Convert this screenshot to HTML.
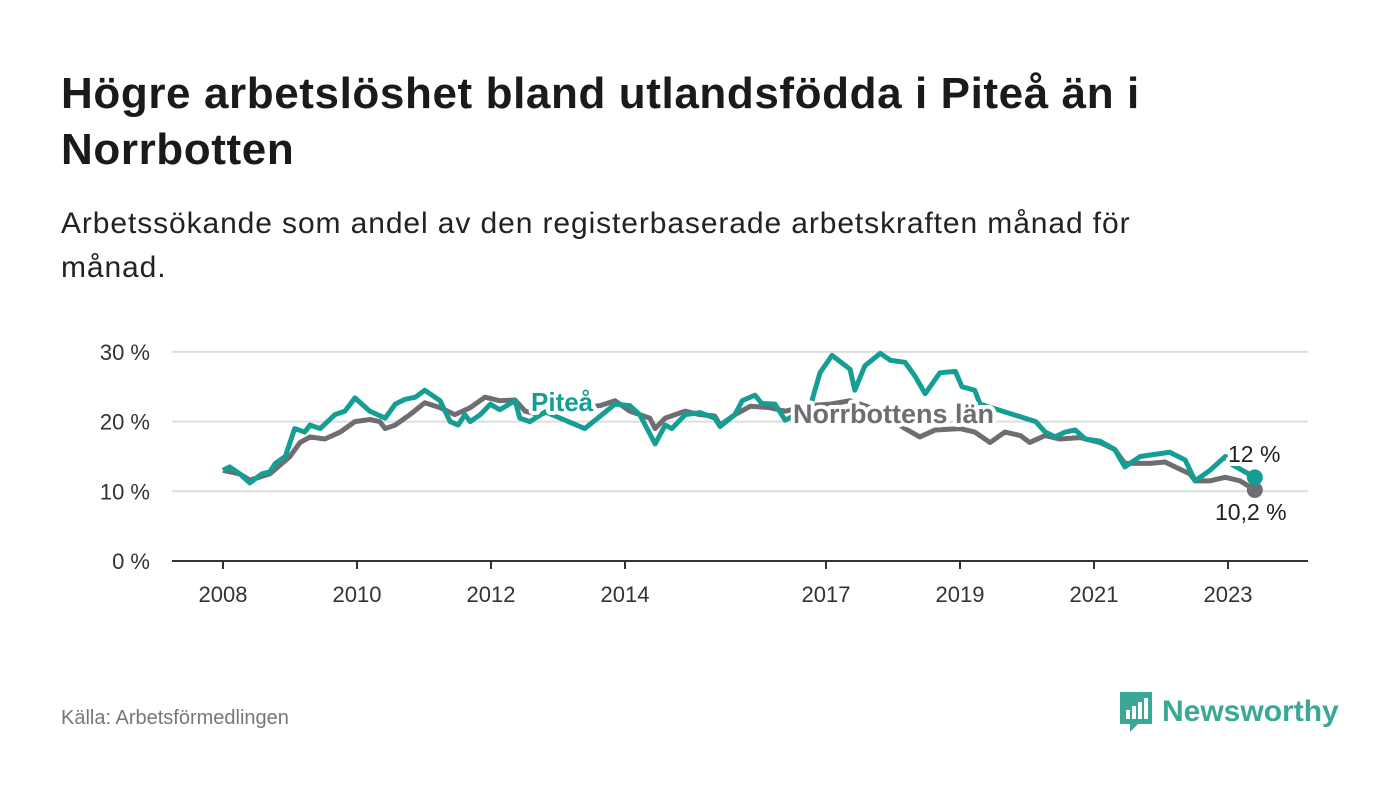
<!DOCTYPE html>
<html><head><meta charset="utf-8">
<style>
body{margin:0;width:1400px;height:794px;background:#fff;font-family:"Liberation Sans",sans-serif;overflow:hidden;position:relative;color:#111}
h1{position:absolute;left:61px;top:66px;margin:0;font-size:44px;line-height:56px;font-weight:bold;color:#1a1a1a;width:1240px;letter-spacing:0.6px}
.sub{position:absolute;left:61px;top:202px;font-size:30px;line-height:44px;color:#222;width:1170px;letter-spacing:0.9px}
.src{position:absolute;left:61px;top:707px;font-size:20px;color:#777}
.logo{position:absolute;left:1118px;top:690px;display:flex;align-items:center}
.logo span{font-size:30px;font-weight:bold;color:#3aa897;margin-left:8px}
svg{position:absolute;left:0;top:0}
</style></head><body>
<h1>Högre arbetslöshet bland utlandsfödda i Piteå än i Norrbotten</h1>
<div class="sub">Arbetssökande som andel av den registerbaserade arbetskraften månad för månad.</div>
<div class="src">Källa: Arbetsförmedlingen</div>
<div class="logo">
<svg width="36" height="44" viewBox="0 0 36 44" style="position:static"><path d="M2 2h32v32H20l-8 8v-8H2z" fill="#3aa897"/><rect x="8" y="20" width="4" height="9" fill="#fff"/><rect x="14" y="16" width="4" height="13" fill="#fff"/><rect x="20" y="12" width="4" height="17" fill="#fff"/><rect x="26" y="8" width="4" height="21" fill="#fff"/></svg>
<span>Newsworthy</span></div>
<svg id="chart" width="1400" height="794"></svg>
<script>
const yTicks=[0,10,20,30];
const xTicks=[2008,2010,2012,2014,2017,2019,2021,2023];
const grayDates=[2008.00,2008.25,2008.40,2008.70,2009.00,2009.15,2009.30,2009.52,2009.75,2009.97,2010.19,2010.34,2010.42,2010.57,2010.79,2011.01,2011.24,2011.46,2011.69,2011.91,2012.13,2012.36,2012.51,2012.73,2013.03,2013.33,2013.63,2013.85,2014.07,2014.37,2014.45,2014.60,2014.90,2015.12,2015.34,2015.42,2015.64,2015.87,2016.16,2016.39,2016.76,2017.06,2017.36,2017.66,2017.96,2018.18,2018.40,2018.63,2019.00,2019.22,2019.45,2019.67,2019.90,2020.04,2020.27,2020.49,2020.79,2021.09,2021.31,2021.46,2021.84,2022.06,2022.21,2022.43,2022.51,2022.73,2022.96,2023.18,2023.40];
const grayValues=[13,12.5,11.6,12.5,15,17,17.8,17.5,18.5,20,20.3,20,19,19.5,21,22.7,22,21,22,23.5,23,23.1,21.5,21,22,22,22.3,23,21.5,20.5,19,20.5,21.5,21,20.8,19.5,21,22.2,22,21.5,22.3,22.5,23,22,20.5,19,17.8,18.8,19,18.5,17,18.5,18,17,18,17.5,17.7,17,16,14,14,14.2,13.5,12.5,11.5,11.5,12,11.5,10.2];
const tealDates=[2008.00,2008.10,2008.25,2008.40,2008.58,2008.70,2008.78,2008.93,2009.07,2009.22,2009.30,2009.45,2009.67,2009.82,2009.97,2010.19,2010.42,2010.57,2010.72,2010.87,2011.01,2011.24,2011.39,2011.51,2011.61,2011.69,2011.84,2011.99,2012.13,2012.36,2012.43,2012.58,2012.81,2013.40,2013.85,2014.07,2014.22,2014.45,2014.60,2014.70,2014.90,2015.12,2015.34,2015.42,2015.64,2015.75,2015.94,2016.04,2016.24,2016.39,2016.76,2016.91,2017.09,2017.36,2017.43,2017.58,2017.81,2017.96,2018.18,2018.33,2018.48,2018.70,2018.93,2019.03,2019.22,2019.30,2020.13,2020.27,2020.42,2020.57,2020.72,2020.87,2021.09,2021.31,2021.46,2021.69,2021.91,2022.13,2022.36,2022.51,2022.73,2022.96,2023.03,2023.40];
const tealValues=[13,13.5,12.5,11.2,12.5,12.8,14,15,19,18.5,19.5,19,21,21.5,23.4,21.5,20.5,22.5,23.2,23.5,24.5,23,20,19.5,21,20,21,22.5,21.7,23,20.5,20,21.4,19,22.5,22.3,21,16.8,19.5,19,21,21.3,20.5,19.3,21,23,23.8,22.6,22.5,20.2,22,27,29.5,27.5,24.5,28,29.8,28.8,28.5,26.5,24,27,27.2,25,24.5,22.5,20,18.5,17.8,18.5,18.8,17.5,17.2,16,13.5,15,15.3,15.6,14.5,11.5,13,15,14,12];
const NS="http://www.w3.org/2000/svg";
const svg=document.getElementById('chart');
const x=d=>223+(d-2008)*67;
const y=v=>561-v*6.97;
function mk(t,a){const e=document.createElementNS(NS,t);for(const k in a)e.setAttribute(k,a[k]);svg.appendChild(e);return e;}
yTicks.forEach(t=>{
 if(t>0){const g=mk('line',{x1:172,x2:1308,y1:y(t),y2:y(t),stroke:'#ddd','stroke-width':2});
 
 }
 const l=mk('text',{x:150,y:y(t)+8,'text-anchor':'end','font-size':22,fill:'#333','font-family':'Liberation Sans, sans-serif'});
 l.textContent=t+' %';
 
 
});
const ax=mk('line',{x1:172,x2:1308,y1:561,y2:561,stroke:'#333','stroke-width':2});


xTicks.forEach(t=>{
 const tk=mk('line',{x1:x(t),x2:x(t),y1:561,y2:569,stroke:'#333','stroke-width':2});
 
 
 const l=mk('text',{x:x(t),y:602,'text-anchor':'middle','font-size':22,fill:'#333','font-family':'Liberation Sans, sans-serif'});
 l.textContent=t;
 
 
});
function line(ds,vs,c,name){
 const p=mk('polyline',{points:ds.map((d,i)=>x(d)+','+y(vs[i])).join(' '),fill:'none',stroke:c,'stroke-width':5,'stroke-linejoin':'round'});
 
 
 const c2=mk('circle',{cx:x(ds[ds.length-1]),cy:y(vs[vs.length-1]),r:8,fill:c});
 
 
}
line(grayDates,grayValues,'#6f6d72','norrbotten-line');
line(tealDates,tealValues,'#159e93','pitea-line');
function lbl(t,xx,yy,c,s,w,name){
 const e=mk('text',{x:xx,y:yy,fill:c,'font-size':s,'font-weight':w,stroke:'#fff','stroke-width':8,'paint-order':'stroke','stroke-linejoin':'round','font-family':'Liberation Sans, sans-serif'});
 e.textContent=t;
 
 
}
lbl('Piteå',531,411,'#159e93',26,'bold','pitea-label');
lbl('Norrbottens län',793,423,'#6f6d72',27,'bold','norrbotten-label');
lbl('12 %',1228,462,'#222',23,'normal','pitea-end-value');
lbl('10,2 %',1215,520,'#222',23,'normal','norrbotten-end-value');
</script>
</body></html>
